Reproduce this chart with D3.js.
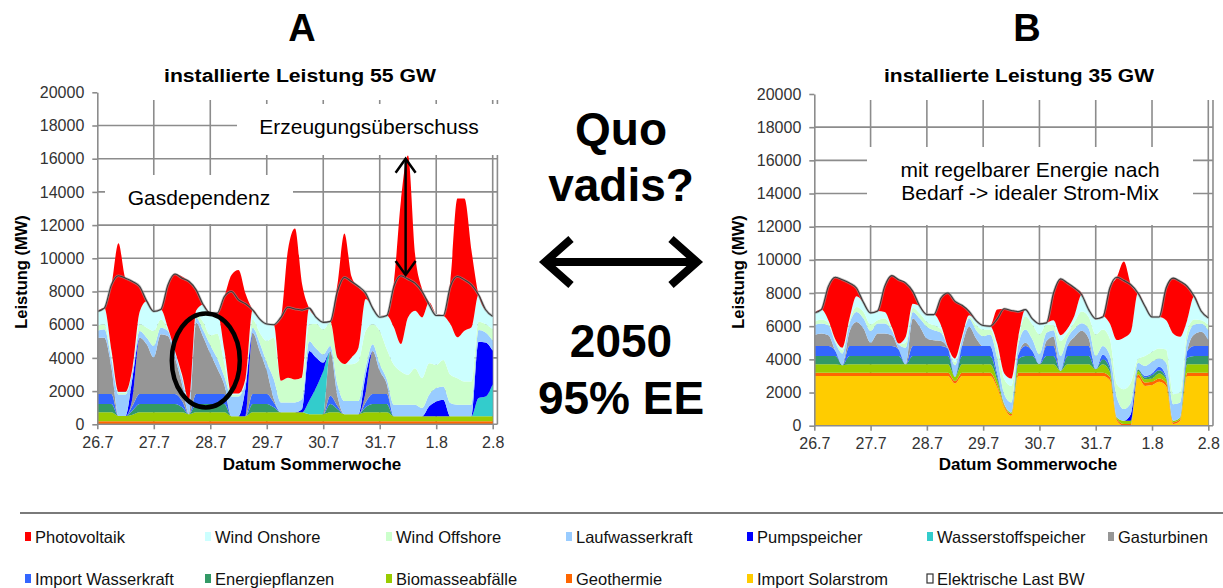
<!DOCTYPE html>
<html>
<head>
<meta charset="utf-8">
<script src="https://cdn.jsdelivr.net/npm/d3@7"></script>
<style>
  body { margin: 0; background: #fff; }
  svg { display: block; font-family: "Liberation Sans", Arial, sans-serif; }
</style>
</head>
<body>
<svg id="chart" width="1223" height="588"></svg>
<script>
// 1: DATA  (MW, alle 3 Stunden von 26.7 0 Uhr bis 2.8 0 Uhr)
const hours = d3.range(0, 169, 3);
const dayTicks = [0, 24, 48, 72, 96, 120, 144, 168];
const dayLabels = ["26.7", "27.7", "28.7", "29.7", "30.7", "31.7", "1.8", "2.8"];
const yTicks = [0, 2000, 4000, 6000, 8000, 10000, 12000, 14000, 16000, 18000, 20000];

// Elektrische Last BW (gleich in beiden Szenarien)
const lastBW = [
  6800, 7000, 8400, 8950, 8800, 8600, 8300, 7420,
  6800, 6920, 8400, 9050, 8800, 8600, 8100, 7200,
  6700, 6700, 7700, 8000, 7500, 7260, 6900, 6340,
  6040, 6000, 6440, 7050, 6950, 6880, 7000, 6440,
  6140, 6200, 8000, 8850, 8600, 8300, 7900, 7000,
  6450, 6550, 8300, 8950, 8750, 8500, 8000, 7200,
  6550, 6550, 8300, 8900, 8700, 8400, 7800, 6900,
  6500
];

// Szenario A: installierte Leistung 55 GW
const geoA = [
  180, 180, 180, 180, 180, 180, 180, 180,
  180, 180, 180, 180, 180, 180, 180, 180,
  180, 180, 180, 180, 180, 180, 180, 180,
  180, 180, 180, 180, 180, 180, 180, 180,
  180, 180, 180, 180, 180, 180, 180, 180,
  180, 180, 180, 180, 180, 180, 180, 180,
  180, 180, 180, 180, 180, 180, 180, 180,
  180
];
const bioA = [
  540, 540, 540, 320, 320, 400, 540, 540,
  540, 540, 540, 540, 540, 420, 540, 540,
  540, 540, 540, 300, 300, 300, 540, 540,
  540, 540, 540, 540, 540, 540, 430, 430,
  430, 540, 540, 430, 430, 430, 540, 540,
  540, 540, 300, 300, 300, 300, 300, 300,
  300, 300, 300, 300, 300, 300, 300, 300,
  300
];
const eneA = [
  500, 500, 500, 0, 0, 250, 500, 500,
  500, 500, 500, 500, 300, 0, 500, 500,
  500, 500, 500, 0, 0, 0, 500, 500,
  500, 300, 0, 0, 0, 0, 0, 0,
  0, 500, 200, 0, 0, 0, 300, 500,
  500, 500, 0, 0, 0, 0, 0, 0,
  0, 0, 0, 0, 0, 0, 0, 0,
  0
];
const impA = [
  600, 600, 600, 0, 0, 300, 600, 600,
  600, 600, 600, 600, 400, 0, 600, 600,
  600, 600, 600, 0, 0, 0, 600, 600,
  600, 300, 0, 0, 0, 0, 0, 0,
  0, 500, 200, 0, 0, 0, 300, 600,
  600, 600, 0, 0, 0, 0, 0, 0,
  0, 0, 0, 0, 0, 0, 0, 0,
  0
];
const gasA = [
  3400, 3400, 1600, 0, 0, 500, 3400, 3000,
  2200, 3600, 3500, 2200, 1000, 0, 4300, 3440,
  2440, 1540, 540, 0, 0, 0, 3700, 2600,
  1400, 200, 0, 0, 0, 0, 0, 0,
  0, 2700, 600, 0, 0, 0, 600, 2600,
  1400, 600, 0, 0, 0, 0, 0, 0,
  0, 0, 0, 0, 0, 0, 0, 0,
  0
];
const h2A = [
  0, 0, 0, 0, 0, 0, 0, 0,
  0, 0, 0, 0, 0, 0, 0, 0,
  0, 0, 0, 0, 0, 0, 0, 0,
  0, 0, 0, 0, 0, 0, 800, 1600,
  2600, 0, 0, 0, 0, 0, 0, 0,
  0, 0, 0, 0, 0, 0, 0, 0,
  0, 0, 0, 0, 0, 0, 1100, 1200,
  1940
];
const pumpA = [
  0, 0, 0, 0, 0, 1200, 0, 0,
  0, 0, 0, 0, 0, 0, 0, 0,
  0, 0, 0, 0, 0, 1700, 0, 0,
  0, 0, 0, 0, 0, 200, 3000, 1800,
  500, 0, 0, 0, 0, 0, 1000, 0,
  0, 0, 0, 0, 0, 0, 0, 600,
  900, 1000, 0, 0, 0, 0, 3400, 3250,
  2010
];
const laufA = [
  400, 500, 500, 1300, 1300, 400, 400, 400,
  700, 400, 300, 300, 400, 700, 300, 400,
  500, 600, 500, 1200, 1200, 400, 300, 500,
  500, 1200, 600, 600, 600, 600, 600, 550,
  500, 300, 700, 800, 800, 800, 500, 400,
  400, 300, 700, 700, 700, 700, 500, 700,
  800, 800, 800, 700, 700, 700, 700, 600,
  600
];
const offA = [
  300, 300, 200, 80, 80, 100, 400, 600,
  900, 500, 100, 50, 90, 50, 200, 500,
  600, 1500, 800, 90, 90, 100, 500, 600,
  1300, 2500, 1300, 1480, 1380, 1300, 1000, 1500,
  1500, 1400, 1600, 2220, 2200, 2400, 2200, 1200,
  2000, 1800, 2400, 2000, 1800, 2200, 1800, 1900,
  1400, 1600, 1700, 1600, 1400, 1400, 500, 500,
  700
];
const onA = [
  880, 980, 340, 80, 80, 100, 760, 1600,
  1180, 600, 100, 50, 90, 50, 240, 1040,
  1340, 1240, 800, 90, 90, 100, 580, 820,
  1020, 780, 0, 0, 0, 0, 990, 380,
  430, 80, 0, 0, 420, 820, 1930, 1030,
  920, 2030, 2260, 1650, 3460, 3460, 3660, 3670,
  3060, 2660, 3060, 2460, 3060, 3260, 1620, 810,
  810
];
const pvA = [
  0, 0, 3940, 8940, 6840, 5170, 1520, 0,
  0, 0, 2580, 4630, 5900, 7200, 1240, 0,
  0, 0, 3240, 7140, 7440, 5080, 0, 0,
  0, 0, 3820, 7700, 9100, 5630, 0, 0,
  0, 0, 4380, 7870, 4870, 3620, 300, 0,
  0, 0, 2710, 8630, 9760, 3420, 1710, 0,
  0, 0, 2610, 8360, 7960, 4620, 0, 0,
  0
];

// Szenario B: installierte Leistung 35 GW
const solarB = [
  3000, 3000, 3000, 3000, 3000, 3000, 3000, 3000,
  3000, 3000, 3000, 3000, 3000, 3000, 3000, 3000,
  3000, 3000, 3000, 3000, 2540, 3000, 3000, 3000,
  3000, 3000, 2300, 1100, 600, 3000, 3000, 3000,
  3000, 3000, 3000, 3000, 3000, 3000, 3000, 3000,
  3000, 3000, 2750, 300, 0, 0, 2900, 2400,
  2450, 2650, 2400, 100, 300, 3000, 3000, 3000,
  3000
];
const geoB = [
  200, 200, 200, 200, 200, 200, 200, 200,
  200, 200, 200, 200, 200, 200, 200, 200,
  200, 200, 200, 200, 150, 200, 200, 200,
  200, 200, 150, 100, 100, 200, 200, 200,
  200, 200, 200, 200, 200, 200, 200, 200,
  200, 200, 200, 100, 100, 100, 200, 200,
  200, 200, 200, 100, 100, 200, 200, 200,
  200
];
const bioB = [
  500, 500, 500, 500, 450, 500, 500, 500,
  500, 500, 500, 500, 500, 500, 500, 500,
  500, 500, 500, 500, 250, 500, 500, 500,
  500, 500, 300, 100, 100, 500, 500, 500,
  500, 500, 500, 100, 500, 500, 500, 500,
  200, 500, 300, 100, 200, 200, 200, 200,
  200, 300, 200, 100, 100, 500, 500, 500,
  500
];
const eneB = [
  500, 500, 500, 500, 0, 500, 500, 500,
  500, 500, 500, 500, 500, 0, 500, 500,
  500, 500, 500, 500, 0, 500, 500, 500,
  500, 500, 200, 0, 0, 300, 500, 500,
  0, 500, 500, 0, 500, 500, 500, 500,
  0, 300, 200, 0, 0, 0, 100, 100,
  200, 200, 100, 0, 0, 400, 500, 500,
  500
];
const impB = [
  600, 600, 600, 300, 0, 600, 600, 600,
  600, 600, 600, 600, 400, 0, 600, 600,
  600, 600, 600, 450, 0, 600, 600, 600,
  600, 600, 200, 0, 0, 300, 600, 300,
  0, 600, 600, 0, 600, 600, 600, 600,
  0, 300, 200, 0, 0, 0, 0, 100,
  100, 200, 100, 0, 0, 400, 600, 600,
  600
];
const gasB = [
  660, 760, 660, 0, 0, 860, 1460, 1060,
  200, 760, 760, 660, 0, 0, 1660, 1160,
  460, 350, 300, 0, 0, 0, 1160, 460,
  0, 0, 0, 0, 0, 0, 200, 0,
  0, 300, 560, 0, 0, 560, 920, 460,
  0, 0, 0, 0, 0, 0, 0, 0,
  0, 0, 0, 0, 0, 0, 700, 860,
  360
];
const h2B = [
  0, 0, 0, 0, 0, 0, 0, 0,
  0, 0, 0, 0, 0, 0, 0, 0,
  0, 0, 0, 0, 0, 0, 0, 0,
  0, 0, 0, 0, 0, 0, 0, 0,
  0, 0, 0, 0, 0, 0, 0, 0,
  0, 0, 0, 0, 0, 0, 0, 0,
  0, 0, 0, 0, 0, 0, 0, 0,
  0
];
const pumpB = [
  0, 0, 0, 0, 0, 0, 0, 0,
  0, 0, 0, 0, 0, 0, 0, 0,
  0, 0, 0, 0, 0, 0, 0, 0,
  0, 0, 0, 0, 0, 0, 0, 0,
  0, 0, 0, 0, 0, 0, 0, 0,
  0, 0, 0, 0, 0, 400, 0, 0,
  0, 0, 0, 0, 0, 0, 0, 0,
  0
];
const laufB = [
  600, 600, 600, 500, 700, 500, 600, 600,
  700, 600, 600, 300, 300, 1000, 400, 500,
  700, 600, 500, 100, 700, 400, 500, 500,
  600, 700, 900, 600, 600, 600, 800, 700,
  600, 500, 400, 900, 500, 500, 460, 600,
  800, 500, 600, 1200, 700, 700, 400, 600,
  700, 500, 800, 1000, 900, 700, 600, 500,
  600
];
const offB = [
  200, 250, 150, 100, 200, 150, 300, 400,
  400, 200, 300, 100, 0, 300, 250, 300,
  300, 300, 200, 0, 200, 80, 100, 300,
  400, 300, 600, 900, 1000, 300, 800, 900,
  1200, 500, 300, 900, 300, 400, 700, 700,
  1300, 1000, 1000, 800, 1200, 1200, 200, 600,
  600, 600, 800, 600, 600, 500, 300, 200,
  300
];
const onB = [
  540, 590, 150, 100, 150, 150, 640, 540,
  700, 560, 400, 100, 50, 360, 250, 440,
  440, 650, 260, 0, 210, 80, 100, 280,
  240, 200, 300, 350, 440, 140, 400, 340,
  640, 100, 300, 360, 260, 400, 1020, 440,
  900, 800, 910, 2660, 3100, 3060, 4000, 3000,
  2100, 1900, 1760, 3660, 3360, 660, 1400, 540,
  390
];
const pvB = [
  0, 0, 2040, 3750, 4100, 2140, 500, 0,
  0, 0, 1540, 3090, 3850, 3240, 740, 0,
  0, 0, 1640, 3250, 3450, 1900, 240, 0,
  0, 0, 2050, 3900, 4110, 1560, 0, 0,
  0, 0, 1640, 3390, 2740, 1640, 100, 0,
  0, 0, 2140, 3790, 4600, 2840, 0, 0,
  0, 0, 1940, 3340, 3340, 2040, 0, 0,
  0
];

const seriesNames = {
  pv: "Photovoltaik", on: "Wind Onshore", off: "Wind Offshore", lauf: "Laufwasserkraft",
  pump: "Pumpspeicher", h2: "Wasserstoffspeicher", gas: "Gasturbinen",
  imp: "Import Wasserkraft", ene: "Energiepflanzen", bio: "Biomasseabfälle",
  geo: "Geothermie", solar: "Import Solarstrom", last: "Elektrische Last BW"
};
const seriesColors = {
  pv: "#ff0000", on: "#ccffff", off: "#ccffcc", lauf: "#99ccff",
  pump: "#0000ff", h2: "#33cccc", gas: "#969696",
  imp: "#3366ff", ene: "#339966", bio: "#99cc00",
  geo: "#ff6600", solar: "#ffcc00", last: "#ffffff"
};

// 2: SVG
const svg = d3.select("#chart");
const gridColor = "#8c8c8c";

function drawPanel(p) {
  const x = d3.scaleLinear().domain([0, 168]).range([p.left, p.right]);
  const y = d3.scaleLinear().domain([0, 20000]).range([p.bottom, p.top]);
  const xEnd = x(170);
  const g = svg.append("g");

  // grid lines (behind the areas)
  g.selectAll(".hgrid")
    .data(yTicks.filter(v => v > 0 && v < 20000))
    .join("line")
    .attr("x1", p.left).attr("x2", xEnd)
    .attr("y1", d => y(d)).attr("y2", d => y(d))
    .attr("stroke", gridColor).attr("stroke-width", 1.6);

  g.selectAll(".vgrid")
    .data(dayTicks.slice(1).concat([170]))
    .join("line")
    .attr("x1", d => x(d)).attr("x2", d => x(d))
    .attr("y1", 100).attr("y2", p.bottom)
    .attr("stroke", gridColor).attr("stroke-width", 1.6);

  // white text boxes over the grid
  p.boxes.forEach(b => {
    g.append("rect")
      .attr("x", b[0]).attr("y", b[1])
      .attr("width", b[2] - b[0]).attr("height", b[3] - b[1])
      .attr("fill", "#fff");
  });

  // stacked areas
  const rows = hours.map((h, i) => {
    const r = { h };
    p.keys.forEach(k => { r[k] = p.values[k][i]; });
    return r;
  });
  const layers = d3.stack().keys(p.keys)(rows);

  const area = d3.area()
    .curve(d3.curveMonotoneX)
    .x(d => x(d.data.h))
    .y0(d => y(d[0]))
    .y1(d => y(d[1]));

  g.selectAll(".layer")
    .data(layers)
    .join("path")
    .attr("fill", d => seriesColors[d.key])
    .attr("d", area);

  // load line
  const line = d3.line()
    .curve(d3.curveMonotoneX)
    .x((d, i) => x(hours[i]))
    .y(d => y(d));

  g.append("path").datum(lastBW)
    .attr("fill", "none").attr("stroke", "#9a9a9a").attr("stroke-width", 2.6)
    .attr("opacity", 0.6).attr("d", line);
  g.append("path").datum(lastBW)
    .attr("fill", "none").attr("stroke", "#3a3a3a").attr("stroke-width", 1.1)
    .attr("d", line);

  // axes
  const yAxis = g.append("g")
    .attr("transform", `translate(${p.left},0)`)
    .call(d3.axisLeft(y).tickValues(yTicks).tickFormat(d3.format("d"))
      .tickSize(5).tickSizeOuter(0).tickPadding(8));
  yAxis.select(".domain").attr("stroke", gridColor).attr("stroke-width", 1.6);
  yAxis.selectAll(".tick line").attr("stroke", gridColor).attr("stroke-width", 1.6);
  yAxis.selectAll(".tick text")
    .attr("fill", "#333").style("font-size", "16px")
    .style("font-family", "'Liberation Sans', Arial, sans-serif");

  g.append("line")
    .attr("x1", p.left).attr("x2", xEnd)
    .attr("y1", p.bottom).attr("y2", p.bottom)
    .attr("stroke", gridColor).attr("stroke-width", 1.6);

  const xAxis = g.append("g")
    .attr("transform", `translate(0,${p.bottom})`)
    .call(d3.axisBottom(x).tickValues(dayTicks)
      .tickFormat((d, i) => dayLabels[i]).tickSize(5).tickSizeOuter(0).tickPadding(7));
  xAxis.select(".domain").remove();
  xAxis.selectAll(".tick line").attr("stroke", gridColor).attr("stroke-width", 1.6);
  xAxis.selectAll(".tick text")
    .attr("fill", "#333").style("font-size", "16px")
    .style("font-family", "'Liberation Sans', Arial, sans-serif");

  // labels
  g.append("text")
    .attr("x", p.letterX).attr("y", 41)
    .attr("text-anchor", "middle")
    .style("font-size", "38px").style("font-weight", "bold")
    .text(p.letter);

  g.append("text")
    .attr("x", p.titleX).attr("y", 82)
    .attr("text-anchor", "middle")
    .attr("textLength", p.titleW).attr("lengthAdjust", "spacingAndGlyphs")
    .style("font-size", "17.5px").style("font-weight", "bold")
    .text(p.title);

  g.append("text")
    .attr("transform", `translate(${p.ylabelX},${272}) rotate(-90)`)
    .attr("text-anchor", "middle")
    .style("font-size", "16.5px").style("font-weight", "bold")
    .text("Leistung (MW)");

  g.append("text")
    .attr("x", p.xlabelX).attr("y", 470)
    .attr("text-anchor", "middle")
    .style("font-size", "17px").style("font-weight", "bold")
    .text("Datum Sommerwoche");

  p.notes.forEach(n => {
    g.append("text")
      .attr("x", n[0]).attr("y", n[1])
      .attr("text-anchor", "middle")
      .style("font-size", "21px")
      .text(n[2]);
  });

  return { x, y, g };
}

// 3: PANELS
const panelA = drawPanel({
  left: 97.3, right: 492.7, top: 92.3, bottom: 424.3,
  letter: "A", letterX: 302,
  title: "installierte Leistung 55 GW", titleX: 300, titleW: 272,
  ylabelX: 27, xlabelX: 312,
  boxes: [[237, 104, 500, 155], [105, 175, 293, 224]],
  notes: [[369, 134, "Erzeugungsüberschuss"], [199, 205, "Gasdependenz"]],
  keys: ["geo", "bio", "ene", "imp", "gas", "h2", "pump", "lauf", "off", "on", "pv"],
  values: { geo: geoA, bio: bioA, ene: eneA, imp: impA, gas: gasA, h2: h2A,
            pump: pumpA, lauf: laufA, off: offA, on: onA, pv: pvA }
});

const panelB = drawPanel({
  left: 814.3, right: 1208.3, top: 94, bottom: 425.7,
  letter: "B", letterX: 1027,
  title: "installierte Leistung 35 GW", titleX: 1019, titleW: 270,
  ylabelX: 744, xlabelX: 1028,
  boxes: [[867, 147, 1193, 225]],
  notes: [[1030, 177, "mit regelbarer Energie nach"], [1030, 200, "Bedarf -> idealer Strom-Mix"]],
  keys: ["solar", "geo", "bio", "ene", "imp", "gas", "h2", "pump", "lauf", "off", "on", "pv"],
  values: { solar: solarB, geo: geoB, bio: bioB, ene: eneB, imp: impB, gas: gasB, h2: h2B,
            pump: pumpB, lauf: laufB, off: offB, on: onB, pv: pvB }
});

// annotations in A: surplus arrow + circle
const ax = panelA.x, ay = panelA.y;
const arrowX = ax(131);
const gA = panelA.g;
gA.append("line")
  .attr("x1", arrowX).attr("x2", arrowX)
  .attr("y1", ay(16000)).attr("y2", ay(9000))
  .attr("stroke", "#000").attr("stroke-width", 2.5);
gA.append("path")
  .attr("d", `M${arrowX - 10},${ay(16000) + 14} L${arrowX},${ay(16000)} L${arrowX + 10},${ay(16000) + 14}`)
  .attr("fill", "none").attr("stroke", "#000").attr("stroke-width", 2.5);
gA.append("path")
  .attr("d", `M${arrowX - 10},${ay(9000) - 14} L${arrowX},${ay(9000)} L${arrowX + 10},${ay(9000) - 14}`)
  .attr("fill", "none").attr("stroke", "#000").attr("stroke-width", 2.5);

gA.append("ellipse")
  .attr("cx", ax(46.1)).attr("cy", ay(3850))
  .attr("rx", 34).attr("ry", 47)
  .attr("fill", "none").attr("stroke", "#000").attr("stroke-width", 4.5);

// 4: CENTER TEXT
const center = svg.append("g").style("font-weight", "bold").attr("text-anchor", "middle");
[["Quo", 145], ["vadis?", 201], ["2050", 357], ["95% EE", 414]].forEach(t => {
  center.append("text")
    .attr("x", 621).attr("y", t[1])
    .style("font-size", "46px")
    .text(t[0]);
});

center.append("line")
  .attr("x1", 546).attr("x2", 694).attr("y1", 262).attr("y2", 262)
  .attr("stroke", "#000").attr("stroke-width", 8);
center.append("path")
  .attr("d", "M571,239 L545,262 L571,285")
  .attr("fill", "none").attr("stroke", "#000").attr("stroke-width", 8);
center.append("path")
  .attr("d", "M671,239 L697,262 L671,285")
  .attr("fill", "none").attr("stroke", "#000").attr("stroke-width", 8);

// 5: LEGEND
const legendRow1 = ["pv", "on", "off", "lauf", "pump", "h2", "gas"];
const legendRow2 = ["imp", "ene", "bio", "geo", "solar", "last"];
const legendX = [25, 205, 386, 566, 747, 927, 1108];
const legendY = [537, 579];

svg.append("line")
  .attr("x1", 20).attr("x2", 1223).attr("y1", 513).attr("y2", 513)
  .attr("stroke", "#7a7a7a").attr("stroke-width", 2);

[legendRow1, legendRow2].forEach((row, r) => {
  const items = svg.append("g").selectAll("g")
    .data(row)
    .join("g")
    .attr("transform", (d, i) => `translate(${legendX[i]},${legendY[r]})`);

  items.append("rect")
    .attr("x", 0).attr("y", -5).attr("width", 6).attr("height", 9)
    .attr("fill", d => seriesColors[d])
    .attr("stroke", d => d === "last" ? "#333" : "none")
    .attr("stroke-width", 1.2);

  items.append("text")
    .attr("x", 10).attr("y", 6)
    .style("font-size", "16.5px")
    .attr("fill", "#111")
    .text(d => seriesNames[d]);
});
</script>
</body>
</html>
